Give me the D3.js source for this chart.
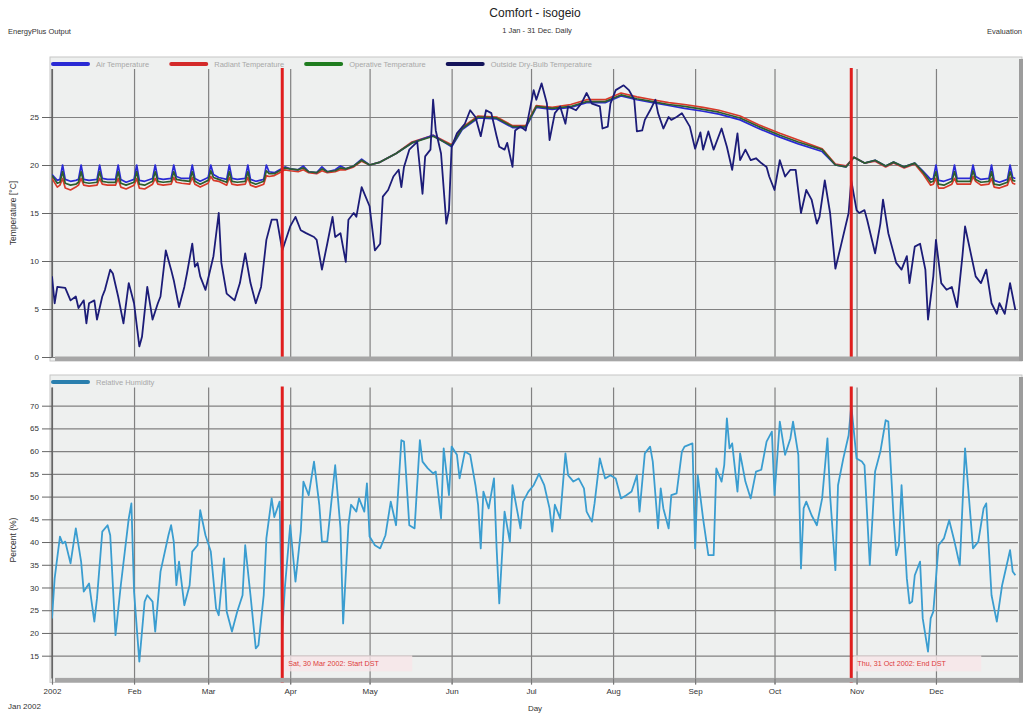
<!DOCTYPE html>
<html><head><meta charset="utf-8">
<script src="https://cdn.jsdelivr.net/npm/d3@7"></script>
<style>
body{margin:0;background:#fff;}
svg{display:block;font-family:"Liberation Sans",Arial,sans-serif;}
</style>
</head><body>
<svg id="chart" width="1025" height="715"></svg>
<script>
// ---------------- DATA ----------------
const monthLabels = ["2002","Feb","Mar","Apr","May","Jun","Jul","Aug","Sep","Oct","Nov","Dec"];
const tempTicks = [0,5,10,15,20,25];
const rhTicks = [15,20,25,30,35,40,45,50,55,60,65,70];
const tempSeriesNames = ["Air Temperature","Radiant Temperature","Operative Temperature","Outside Dry-Bulb Temperature"];
const rhSeriesNames = ["Relative Humidity"];
const dstDays = [87, 302];
const dstLabels = ["Sat, 30 Mar 2002: Start DST", "Thu, 31 Oct 2002: End DST"];

// [day of year, value]
const airTemp = [[0,19.0],[2,18.4],[3,18.5],[4,20.0],[5,18.5],[7,18.3],[9,18.4],[10,18.5],[11,20.0],[12,18.5],[14,18.4],[17,18.5],[18,20.0],[19,18.6],[21,18.5],[24,18.5],[25,20.0],[26,18.5],[28,18.2],[31,18.5],[32,20.0],[33,18.4],[35,18.3],[38,18.6],[39,20.0],[40,18.6],[42,18.5],[45,18.6],[46,20.0],[47,18.8],[49,18.6],[52,18.6],[53,20.0],[54,18.6],[56,18.3],[59,18.7],[60,20.0],[61,19.0],[63,18.7],[66,18.5],[67,20.0],[68,18.6],[70,18.5],[73,18.6],[74,20.0],[75,18.5],[77,18.3],[80,18.5],[81,20.0],[82,19.3],[84,19.2],[86,19.5],[88,19.8],[90,19.6],[93,19.5],[95,19.9],[97,19.3],[100,19.2],[102,19.8],[104,19.3],[107,19.5],[109,19.9],[111,19.6],[114,19.9],[117,20.6],[120,20.0],[124,20.3],[130,21.2],[136,22.3],[144,23.1],[151,21.9],[155,23.7],[161,24.9],[168,24.8],[174,23.9],[179,23.9],[183,26.0],[189,25.8],[196,26.0],[202,26.5],[209,26.5],[215,27.2],[221,26.8],[227,26.5],[233,26.2],[239,25.9],[246,25.6],[252,25.3],[260,24.7],[267,23.8],[275,22.9],[282,22.2],[291,21.4],[296,20.0],[300,19.8],[303,20.8],[307,20.2],[311,20.5],[315,19.9],[318,20.3],[322,19.8],[326,20.2],[329,19.4],[332,18.5],[333,18.6],[334,20.0],[335,18.4],[337,18.3],[340,18.6],[341,20.0],[342,18.6],[344,18.6],[347,18.6],[348,20.0],[349,18.8],[351,18.5],[354,18.6],[355,20.0],[356,18.4],[358,18.2],[361,18.5],[362,20.0],[363,18.7],[364,18.6]];

const operativeTemp = [[0,18.9],[2,18.1],[3,18.2],[4,19.3],[5,18.1],[7,17.9],[9,18.0],[10,18.2],[11,19.3],[12,18.2],[14,18.1],[17,18.2],[18,19.3],[19,18.3],[21,18.2],[24,18.2],[25,19.3],[26,18.1],[28,17.9],[31,18.2],[32,19.3],[33,18.0],[35,17.9],[38,18.3],[39,19.3],[40,18.3],[42,18.2],[45,18.3],[46,19.3],[47,18.5],[49,18.4],[52,18.3],[53,19.3],[54,18.3],[56,18.0],[59,18.4],[60,19.4],[61,18.7],[63,18.5],[66,18.2],[67,19.3],[68,18.3],[70,18.2],[73,18.3],[74,19.3],[75,18.2],[77,18.0],[80,18.3],[81,19.4],[82,19.1],[84,19.1],[86,19.4],[88,19.7],[90,19.6],[93,19.5],[95,19.7],[97,19.3],[100,19.2],[102,19.6],[104,19.3],[107,19.4],[109,19.7],[111,19.6],[114,19.9],[117,20.5],[120,20.0],[124,20.3],[130,21.2],[136,22.3],[144,23.0],[151,22.0],[155,23.8],[161,25.0],[168,24.9],[174,24.0],[179,24.0],[183,26.1],[189,25.9],[196,26.1],[202,26.6],[209,26.6],[215,27.3],[221,26.9],[227,26.6],[233,26.3],[239,26.1],[246,25.8],[252,25.5],[260,24.9],[267,24.0],[275,23.1],[282,22.4],[291,21.6],[296,20.0],[300,19.8],[303,20.8],[307,20.2],[311,20.5],[315,19.9],[318,20.3],[322,19.8],[326,20.2],[329,19.3],[332,18.2],[333,18.3],[334,19.3],[335,18.0],[337,17.9],[340,18.3],[341,19.3],[342,18.3],[344,18.3],[347,18.3],[348,19.4],[349,18.5],[351,18.2],[354,18.3],[355,19.3],[356,18.0],[358,17.9],[361,18.2],[362,19.3],[363,18.4],[364,18.3]];

const radiantTemp = [[0,18.6],[2,17.7],[3,17.9],[4,18.6],[5,17.6],[7,17.4],[9,17.7],[10,17.9],[11,18.6],[12,17.9],[14,17.8],[17,17.9],[18,18.6],[19,18.0],[21,17.9],[24,17.9],[25,18.6],[26,17.7],[28,17.5],[31,17.9],[32,18.6],[33,17.6],[35,17.5],[38,18.0],[39,18.6],[40,18.0],[42,17.9],[45,18.0],[46,18.7],[47,18.2],[49,18.1],[52,18.0],[53,18.7],[54,18.0],[56,17.7],[59,18.1],[60,18.8],[61,18.4],[63,18.3],[66,17.9],[67,18.7],[68,18.0],[70,17.9],[73,18.0],[74,18.7],[75,17.9],[77,17.7],[80,18.0],[81,18.9],[82,18.8],[84,18.9],[86,19.2],[88,19.5],[90,19.4],[93,19.3],[95,19.5],[97,19.2],[100,19.1],[102,19.4],[104,19.2],[107,19.3],[109,19.5],[111,19.5],[114,19.8],[117,20.4],[120,20.0],[124,20.3],[130,21.2],[136,22.4],[144,23.1],[151,22.1],[155,23.9],[161,25.1],[168,25.0],[174,24.1],[179,24.1],[183,26.2],[189,26.0],[196,26.3],[202,26.8],[209,26.8],[215,27.5],[221,27.1],[227,26.8],[233,26.5],[239,26.3],[246,26.0],[252,25.7],[260,25.1],[267,24.2],[275,23.3],[282,22.6],[291,21.7],[296,20.1],[300,19.9],[303,20.8],[307,20.2],[311,20.4],[315,19.8],[318,20.2],[322,19.7],[326,20.1],[329,19.1],[332,17.9],[333,18.0],[334,18.6],[335,17.6],[337,17.6],[340,18.0],[341,18.6],[342,18.0],[344,18.0],[347,18.0],[348,18.8],[349,18.3],[351,17.9],[354,18.0],[355,18.6],[356,17.7],[358,17.6],[361,17.9],[362,18.7],[363,18.1],[364,18.0]];

const outsideTemp = [[0,8.4],[1,5.6],[2,7.3],[5,7.2],[7,5.9],[9,6.3],[10,5.1],[12,5.9],[13,3.5],[14,5.6],[16,5.9],[17,3.9],[19,6.3],[20,7.0],[22,9.1],[23,8.7],[25,6.3],[27,3.5],[29,7.7],[31,5.6],[33,1.1],[34,2.1],[36,7.3],[38,3.9],[40,5.6],[41,6.3],[43,11.1],[45,9.1],[46,8.0],[48,5.2],[50,7.3],[51,8.7],[53,11.8],[54,9.4],[55,9.8],[56,8.4],[58,7.0],[61,10.5],[63,15.0],[64,9.8],[66,6.6],[69,5.9],[71,7.7],[73,10.8],[75,7.7],[77,5.6],[79,7.3],[81,12.2],[83,14.3],[85,14.3],[87,11.1],[90,13.6],[92,14.6],[94,13.2],[96,12.9],[99,12.5],[100,12.2],[102,9.1],[104,11.8],[106,14.6],[107,12.5],[109,12.9],[111,9.9],[112,14.3],[114,15.0],[115,14.6],[117,17.7],[120,15.7],[122,11.1],[124,11.8],[125,16.7],[127,17.4],[129,18.8],[131,19.5],[132,17.7],[133,19.8],[135,21.6],[138,22.4],[140,17.0],[141,20.9],[143,21.6],[144,26.8],[145,23.6],[147,21.2],[149,13.9],[150,15.3],[151,21.9],[153,23.3],[156,24.3],[158,25.7],[160,25.0],[162,23.0],[164,25.7],[166,25.4],[168,23.0],[169,21.9],[171,21.6],[172,22.3],[174,19.8],[175,23.6],[177,24.0],[179,23.6],[182,27.8],[183,26.8],[185,28.5],[187,26.4],[188,22.6],[190,25.4],[192,26.1],[194,24.3],[195,26.1],[198,25.7],[200,26.4],[202,27.5],[204,26.4],[207,26.1],[208,23.8],[210,24.0],[211,26.4],[213,27.8],[216,28.3],[218,27.8],[220,26.8],[221,23.5],[223,23.6],[224,24.7],[226,25.7],[228,26.8],[229,25.4],[231,23.8],[233,25.0],[234,24.7],[236,25.0],[238,25.4],[241,24.0],[243,21.7],[245,23.4],[246,21.6],[248,23.5],[250,21.6],[253,23.8],[255,21.9],[257,19.5],[259,23.3],[260,20.5],[262,21.6],[264,20.5],[266,20.7],[268,20.2],[270,19.8],[271,18.8],[273,17.4],[275,20.5],[277,18.8],[279,19.5],[281,19.5],[283,15.0],[285,17.4],[287,16.4],[289,13.9],[290,14.6],[292,18.4],[294,15.0],[296,9.2],[298,11.5],[301,15.0],[302,18.4],[304,15.3],[305,15.0],[307,15.3],[308,14.3],[311,10.8],[313,13.9],[314,16.4],[316,12.9],[319,9.8],[321,9.1],[323,10.5],[324,7.7],[326,11.5],[328,11.8],[330,9.1],[331,3.9],[333,8.4],[334,12.2],[336,7.7],[338,7.0],[340,7.3],[342,5.2],[344,10.5],[345,13.6],[347,11.0],[349,8.4],[351,7.7],[353,9.1],[355,5.6],[357,4.5],[358,5.6],[360,4.5],[362,7.7],[364,4.9]];

const relHumidity = [[0,23.2],[1,32.0],[3,41.2],[4,39.7],[5,40.1],[7,35.3],[9,43.0],[11,35.7],[12,29.1],[14,30.9],[16,22.5],[17,27.6],[19,42.3],[21,43.7],[22,41.5],[24,19.5],[26,30.5],[29,45.2],[30,48.5],[31,29.1],[33,13.7],[35,26.9],[36,28.3],[38,26.9],[39,20.3],[41,33.5],[44,41.5],[45,43.7],[46,40.1],[47,30.5],[48,35.7],[50,26.1],[52,30.5],[53,37.9],[55,39.3],[56,47.0],[58,41.5],[60,37.9],[62,25.4],[63,23.9],[65,36.4],[66,24.7],[68,20.3],[70,24.7],[72,28.3],[73,39.3],[75,28.3],[77,16.6],[78,17.3],[80,28.3],[81,40.8],[83,49.6],[84,45.5],[86,48.9],[87,20.5],[88,30.0],[90,43.7],[92,31.3],[94,42.3],[95,53.3],[97,50.3],[99,57.7],[101,48.2],[102,40.1],[104,40.1],[107,56.9],[109,43.0],[110,22.1],[112,43.7],[113,48.2],[115,46.7],[116,49.6],[118,46.7],[119,52.9],[120,41.2],[122,39.3],[124,38.6],[126,41.5],[128,48.9],[130,43.7],[132,62.4],[133,62.1],[135,43.7],[137,43.0],[139,62.4],[140,57.7],[142,56.2],[144,55.1],[145,55.5],[147,45.2],[148,60.6],[150,50.3],[151,61.0],[153,59.2],[154,54.0],[156,59.9],[158,59.2],[160,52.5],[161,48.2],[162,38.6],[163,51.1],[165,47.4],[167,54.0],[168,38.6],[169,26.5],[171,46.7],[173,40.1],[174,52.5],[177,43.0],[178,48.9],[180,51.1],[182,52.5],[184,55.0],[186,52.5],[188,47.4],[189,42.3],[190,48.2],[192,45.2],[194,59.5],[195,54.7],[196,54.0],[197,53.3],[199,54.0],[201,51.8],[202,46.7],[204,44.5],[205,48.5],[207,58.4],[209,54.0],[211,54.7],[213,54.0],[215,49.6],[217,50.3],[219,51.1],[221,54.7],[222,46.7],[224,59.5],[226,61.0],[227,57.7],[229,43.0],[230,51.8],[231,47.4],[233,43.0],[234,50.3],[236,50.7],[238,59.9],[239,61.0],[242,61.7],[243,38.6],[244,54.7],[246,45.2],[248,37.1],[250,37.1],[251,56.2],[253,53.3],[254,56.9],[255,67.2],[256,60.6],[257,61.7],[259,51.1],[260,59.5],[262,53.3],[264,49.6],[266,55.5],[268,55.9],[270,62.1],[272,64.3],[273,50.3],[275,66.5],[277,59.2],[279,62.8],[280,66.5],[282,59.2],[283,34.2],[284,47.4],[285,48.9],[287,45.9],[289,43.7],[291,49.6],[293,62.8],[294,50.3],[296,33.8],[297,52.5],[299,58.4],[301,63.5],[302,70.1],[304,58.4],[306,57.7],[307,56.9],[309,34.9],[311,55.5],[313,59.9],[315,66.8],[316,66.5],[318,45.2],[319,37.1],[320,39.3],[321,52.5],[323,32.0],[324,26.5],[325,26.9],[326,32.7],[328,35.7],[329,23.2],[331,15.9],[332,23.2],[333,24.7],[335,39.3],[337,40.8],[339,44.8],[341,40.1],[343,34.9],[345,60.6],[347,45.9],[348,38.6],[350,40.1],[352,47.4],[353,48.5],[355,28.3],[357,22.5],[359,30.5],[362,38.2],[363,33.5],[364,32.7]];

// ---------------- LAYOUT ----------------
const svg = d3.select("#chart");
const X0 = 52, X1 = 1018;
const yearStart = new Date(2002, 0, 1);
const x = d3.scaleTime().domain([yearStart, new Date(2003, 0, 1)]).range([X0, X1]);
const dayDate = d => d3.timeDay.offset(yearStart, d);
const monthDates = d3.timeMonth.range(yearStart, new Date(2003, 0, 1));

const colors = {air:"#2a2ad4", rad:"#d83a2a", op:"#2e5e2e", out:"#1c1c78", rh:"#3a9dd0", dst:"#e01e1e"};

// header texts
svg.append("text").attr("x", 535).attr("y", 17).attr("text-anchor","middle")
  .attr("font-size", 12).attr("fill","#222").text("Comfort - isogeio");
svg.append("text").attr("x", 537).attr("y", 33).attr("text-anchor","middle")
  .attr("font-size", 7.5).attr("fill","#333").text("1 Jan - 31 Dec. Daily");
svg.append("text").attr("x", 8).attr("y", 34)
  .attr("font-size", 7.5).attr("fill","#333").text("EnergyPlus Output");
svg.append("text").attr("x", 1022).attr("y", 34).attr("text-anchor","end")
  .attr("font-size", 7.5).attr("fill","#333").text("Evaluation");

function drawPanel(p) {
  const g = svg.append("g");
  g.append("rect").attr("x", 50).attr("y", p.frameTop).attr("width", X1 - 50 + 4)
    .attr("height", p.plotBottom - p.frameTop + 4).attr("fill", "#eef0ef").attr("stroke", "#c6c6c6");
  g.append("g").attr("transform", `translate(${X0},0)`)
    .call(d3.axisLeft(p.y).tickValues(p.ticks).tickSize(-(X1 - X0)).tickFormat(""))
    .call(a => a.select(".domain").remove())
    .call(a => a.selectAll("line").attr("stroke", "#818181").attr("stroke-width", 1.2));
  g.append("g").attr("transform", `translate(0,${p.plotBottom + p.tickExt})`)
    .call(d3.axisBottom(x).tickValues(monthDates).tickSize(-(p.plotBottom + p.tickExt - p.plotTop)).tickFormat(""))
    .call(a => a.select(".domain").remove())
    .call(a => a.selectAll("line").attr("stroke", "#818181").attr("stroke-width", 1.2));
  g.append("g").attr("transform", `translate(${X0},0)`)
    .call(d3.axisLeft(p.y).tickValues(p.ticks).tickSize(10).tickPadding(3))
    .call(a => a.select(".domain").remove())
    .call(a => a.selectAll("line").attr("stroke", "#666"))
    .call(a => a.selectAll("text").attr("font-size", 8).attr("fill", "#333")
      .attr("font-family", '"Liberation Sans",Arial,sans-serif'));
  g.append("line").attr("x1", X0).attr("x2", X0).attr("y1", p.plotTop).attr("y2", p.plotBottom)
    .attr("stroke", "#555").attr("stroke-width", 1.2);
  g.append("text").attr("transform", `translate(16,${p.titleY}) rotate(-90)`)
    .attr("text-anchor", "middle").attr("font-size", 8.5).attr("fill", "#333").text(p.title);

  const cid = "clip" + p.id;
  svg.append("clipPath").attr("id", cid).append("rect")
    .attr("x", X0).attr("y", p.plotTop).attr("width", X1 - X0).attr("height", p.plotBottom - p.plotTop);
  const lines = g.append("g").attr("clip-path", `url(#${cid})`);
  p.series.forEach(s => {
    const line = d3.line().x(d => x(dayDate(d[0]))).y(d => p.y(d[1]));
    lines.append("path").datum(s.data).attr("d", line).attr("fill", "none")
      .attr("stroke", s.color).attr("stroke-width", s.width).attr("stroke-linejoin", "round");
  });

  dstDays.forEach((d, i) => {
    const xx = x(dayDate(d));
    if (p.showDstLabels) {
      g.append("rect").attr("x", xx + 2).attr("y", p.plotBottom - 23).attr("width", 128).attr("height", 16)
        .attr("fill", "#f8e6e8").attr("opacity", 0.8);
      g.append("text").attr("x", xx + 6).attr("y", p.plotBottom - 12).attr("font-size", 7.2)
        .attr("fill", "#dd3b3b").text(dstLabels[i]);
    }
    g.append("line").attr("x1", xx).attr("x2", xx).attr("y1", p.plotTop - 1).attr("y2", p.plotBottom + p.dstExt)
      .attr("stroke", colors.dst).attr("stroke-width", 3);
  });

  g.append("rect").attr("x", X0 + 3).attr("y", p.plotBottom - 0.5).attr("width", X1 - X0 + 2).attr("height", 4.5)
    .attr("fill", "#a6a6a6");
  g.append("rect").attr("x", X1 + 1).attr("y", p.frameTop + 2).attr("width", 4).attr("height", p.plotBottom - p.frameTop + 2)
    .attr("fill", "#9c9c9c");

  let lx = 53;
  p.series.slice().sort((a, b) => a.order - b.order).forEach(s => {
    g.append("line").attr("x1", lx).attr("x2", lx + 35).attr("y1", p.frameTop + 7).attr("y2", p.frameTop + 7)
      .attr("stroke", s.legendColor || s.color).attr("stroke-width", 4).attr("stroke-linecap", "round");
    const t = g.append("text").attr("x", lx + 43).attr("y", p.frameTop + 10).attr("font-size", 7.5)
      .attr("fill", "#a8a8a8").text(s.name);
    lx = lx + 43 + t.node().getComputedTextLength() + 22;
  });
  return g;
}

const yTemp = d3.scaleLinear().domain([0, 30]).range([357, 69]);
drawPanel({
  id: "T", frameTop: 57, plotTop: 69, plotBottom: 357, y: yTemp, ticks: tempTicks,
  tickExt: 0, dstExt: 2, showDstLabels: false,
  title: "Temperature [°C]", titleY: 213,
  series: [
    {name: tempSeriesNames[1], data: radiantTemp, color: colors.rad, width: 1.7, order: 1, legendColor: "#d42a2a"},
    {name: tempSeriesNames[0], data: airTemp, color: colors.air, width: 1.7, order: 0},
    {name: tempSeriesNames[2], data: operativeTemp, color: colors.op, width: 1.7, order: 2, legendColor: "#1f7d1f"},
    {name: tempSeriesNames[3], data: outsideTemp, color: colors.out, width: 1.8, order: 3, legendColor: "#14145a"}
  ]
});

const yRH = d3.scaleLinear().domain([10, 74]).range([678.4, 387.5]);
drawPanel({
  id: "RH", frameTop: 375, plotTop: 387.5, plotBottom: 678.4, y: yRH, ticks: rhTicks,
  tickExt: 6, dstExt: 4, showDstLabels: true,
  title: "Percent (%)", titleY: 540,
  series: [
    {name: rhSeriesNames[0], data: relHumidity, color: colors.rh, width: 1.8, order: 0, legendColor: "#2a7fae"}
  ]
});

svg.append("g").attr("transform", `translate(0,${678.4})`)
  .call(d3.axisBottom(x).tickValues(monthDates).tickSize(6).tickPadding(4).tickFormat((d, i) => monthLabels[i]))
  .call(a => a.select(".domain").remove())
  .call(a => a.selectAll("line").attr("stroke", "#777"))
  .call(a => a.selectAll("text").attr("font-size", 8).attr("fill", "#333")
    .attr("font-family", '"Liberation Sans",Arial,sans-serif'));
svg.append("text").attr("x", 8).attr("y", 709).attr("font-size", 8).attr("fill", "#333").text("Jan 2002");
svg.append("text").attr("x", 535).attr("y", 711).attr("text-anchor", "middle").attr("font-size", 8).attr("fill", "#333").text("Day");
</script>
</body></html>
